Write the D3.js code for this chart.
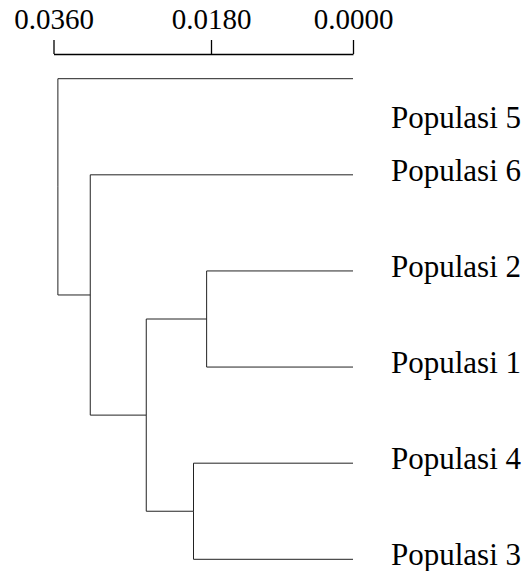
<!DOCTYPE html>
<html>
<head>
<meta charset="utf-8">
<script src="https://cdn.jsdelivr.net/npm/d3@7"></script>
<style>
  body { margin: 0; background: #fff; }
  text { font-family: "Liberation Serif", "Times New Roman", serif; fill: #000; }
</style>
</head>
<body>
<div id="chart"></div>
<script>
// Dendrogram data (leaf order top to bottom)
const leaves = ["Populasi 5", "Populasi 6", "Populasi 2", "Populasi 1", "Populasi 4", "Populasi 3"];
// merges: indices into leaves, new clusters get numbers 6, 7, ...
const mergePairs = [[2, 3], [4, 5], [6, 7], [1, 8], [0, 9]];
const mergeHeights = [0.0185, 0.0200, 0.0254, 0.0318, 0.0355];
const tickValues = [0.036, 0.018, 0];

const W = 531, H = 571;

const svg = d3.select("#chart").append("svg")
  .attr("width", W)
  .attr("height", H);

// Scales (the printed bar is not evenly spaced, middle tick sits right of centre)
const x = d3.scaleLinear()
  .domain([0.036, 0.018, 0])
  .range([53.5, 211, 353]);

const y = d3.scalePoint()
  .domain(leaves)
  .range([78.7, 559.3]);

// Build tree from merges
const nodes = leaves.map((name) => ({ name: name, height: 0 }));
mergePairs.forEach((p, i) => {
  nodes.push({ name: "n" + i, height: mergeHeights[i], children: [nodes[p[0]], nodes[p[1]]] });
});
const root = d3.hierarchy(nodes[nodes.length - 1]);

root.eachAfter((d) => {
  if (d.children) {
    d.py = d3.mean(d.children, (c) => c.py);
  } else {
    d.py = y(d.data.name);
  }
  d.px = x(d.data.height);
});

// Scale bar
const axis = d3.axisTop(x)
  .tickValues(tickValues)
  .tickFormat(d3.format(".4f"))
  .tickSize(14)
  .tickSizeOuter(0)
  .tickPadding(11);

const axisGroup = svg.append("g")
  .attr("transform", "translate(0,54)")
  .call(axis);

axisGroup.select(".domain").attr("stroke", "#000").attr("stroke-width", 1.3);
axisGroup.selectAll(".tick line").attr("stroke", "#000").attr("stroke-width", 1.3);
axisGroup.selectAll(".tick text")
  .style("font-family", "'Liberation Serif', serif")
  .style("font-size", "29px")
  .attr("fill", "#000");

// Elbow links
const g = svg.append("g");
g.selectAll(".link")
  .data(root.links())
  .enter().append("path")
  .attr("class", "link")
  .attr("fill", "none")
  .attr("stroke", "#222")
  .attr("stroke-width", 1)
  .attr("d", (l) => "M" + l.source.px + "," + l.source.py + "V" + l.target.py + "H" + l.target.px);

// Leaf labels
g.selectAll(".label")
  .data(root.leaves())
  .enter().append("text")
  .attr("class", "label")
  .attr("x", (d) => d.px + 38)
  .attr("y", (d) => d.py + (d.data.name === "Populasi 5" ? 49 : 6))
  .style("font-size", "31px")
  .text((d) => d.data.name);
</script>
</body>
</html>
